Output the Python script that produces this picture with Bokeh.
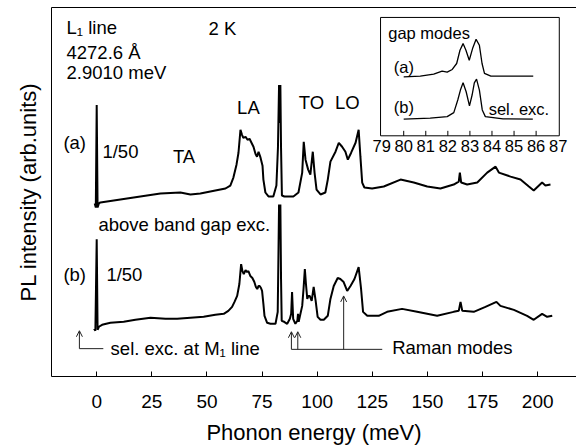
from bokeh.plotting import figure
from bokeh.models import Range1d, LinearAxis, FixedTicker, Label, Arrow, OpenHead
from bokeh.core.properties import value
from bokeh.embed import file_html
from bokeh.resources import INLINE

FONT = "Liberation Sans"

# ---------------- data ----------------
x_ticks = [0, 25, 50, 75, 100, 125, 150, 175, 200]

# trace (a): above band gap excitation
a_energy = [-0.9, -0.4, 0.0, 0.4, 1.0, 1.68, 10.75, 19.8, 28.9, 37.97, 42.5, 47.0, 53.8, 58.4,
            60.6, 62.0, 63.4, 64.3, 65.2, 65.9, 66.5, 67.5, 68.4, 69.3, 70.2, 71.1, 72.0, 72.7,
            73.4, 74.3, 75.2, 75.6, 76.5, 77.9, 80.1, 81.5, 82.2, 82.7, 82.97, 83.3, 83.6, 84.0,
            85.1, 89.2, 91.5, 93.2, 93.9, 94.7, 95.9, 96.9, 98.0, 98.8, 99.7, 101.5, 103.7,
            104.8, 106.0, 108.3, 109.8, 111.3, 112.8, 113.9, 115.4, 117.4, 118.8, 119.6, 120.4,
            121.4, 124.9, 130.2, 137.8, 143.8, 149.9, 155.9, 161.9, 164.2, 164.7, 165.3, 168.0,
            172.6, 177.1, 180.9, 182.4, 187.7, 192.2, 196.0, 198.2, 202.0, 203.5, 205.8]
a_intensity = [174, 170, 273, 170, 174, 175, 178, 181, 184, 185, 183, 184, 187, 189,
               192, 200, 213, 225, 248, 243, 240, 241, 238, 239, 235, 231, 224, 221,
               226, 220, 212, 198, 185, 181, 181, 192, 230, 293, 255, 293, 230, 182,
               181, 181, 185, 205, 236, 218, 208, 203, 226, 205, 188, 183, 185,
               198, 216, 226, 235, 231, 226, 218, 225, 235, 248, 221, 195,
               190, 189, 191, 198, 195, 191, 189, 193, 196, 205, 195, 193,
               195, 205, 211, 205, 201, 198, 191, 187, 195, 192, 193]

# trace (b): selective excitation at M1 line
b_energy = [-1.2, -0.6, 0.0, 0.4, 1.0, 2.45, 6.2, 12.25, 17.55, 24.4, 31.2, 36.5, 42.5, 48.5,
            53.8, 57.6, 59.7, 61.4, 62.5, 63.7, 64.7, 65.5, 66.1, 66.7, 67.5, 68.2, 68.8, 69.7,
            70.6, 71.5, 72.2, 72.8, 73.4, 73.9, 74.5, 75.0, 75.6, 76.1, 77.3, 78.8, 81.1, 82.1,
            82.4, 82.7, 82.97, 83.3, 83.6, 83.9, 85.0, 86.4, 87.6, 88.2, 88.6, 89.1, 90.1, 91.0,
            91.3, 91.6, 93.2, 93.8, 94.4, 94.9, 95.5, 96.0, 96.6, 97.5, 98.4, 99.3, 100.2, 101.5,
            103.0, 104.8, 106.0, 107.5, 109.3, 110.5, 112.0, 113.6, 115.1, 116.9, 118.8, 119.9,
            120.8, 122.7, 127.9, 131.7, 138.5, 145.3, 154.4, 161.9, 164.2, 165.0, 165.8, 171.0,
            176.3, 181.3, 183.1, 189.2, 195.2, 198.2, 202.0, 204.3, 206.6]
b_intensity = [48, 46, 138, 47, 50, 52, 54, 55, 57, 59, 58, 58, 59, 60,
               62, 63, 66, 70, 75, 81, 93, 113, 106, 103, 107, 105, 106, 101,
               99, 95, 90, 88, 91, 91, 89, 86, 73, 61, 54, 53, 53, 65,
               118, 173, 138, 173, 98, 56, 55, 53, 58, 63, 85, 58, 53, 56,
               63, 55, 71, 88, 108, 93, 78, 81, 81, 76, 90, 76, 60, 57,
               57, 61, 78, 91, 99, 98, 95, 86, 91, 98, 110, 88,
               65, 61, 61, 65, 68, 65, 61, 65, 66, 75, 66, 65,
               70, 75, 71, 67, 61, 57, 63, 60, 61]

# inset: gap modes
inset_ticks = [80, 81, 82, 83, 84, 85, 86]
inset_labels = ["79", "80", "81", "82", "83", "84", "85", "86", "87"]
inset_label_pos = [79, 80, 81, 82, 83, 84, 85, 86, 87]
ia_energy = [80.0, 80.75, 81.36, 81.74, 81.97, 82.2, 82.4, 82.55, 82.69, 82.82, 82.97, 83.12,
             83.28, 83.43, 83.55, 83.66, 83.95, 84.86, 85.87]
ia_intensity = [59.3, 60, 62, 65, 64, 66.7, 72.7, 86, 92.7, 86, 76, 87.7,
                97, 91, 72.7, 62.7, 60, 60, 60]
ib_energy = [80.0, 81.2, 81.97, 82.27, 82.45, 82.57, 82.69, 82.83, 82.98, 83.1, 83.2, 83.3,
             83.43, 83.56, 83.7, 84.5, 85.85]
ib_intensity = [16.7, 17.7, 19.3, 23.3, 36, 46, 53.3, 44.3, 30, 41, 53.3, 57,
                46, 26, 19.3, 17, 16.7]

# Raman mode positions (arrows) and excitation marker
raman_modes = [88.3, 91.2, 112.0]
sel_exc = -7.85

# ---------------- figure ----------------
p = figure(width=576, height=447, x_range=Range1d(-20.5, 217.6), y_range=Range1d(0, 371),
           output_backend="svg", toolbar_location=None,
           min_border_left=51, min_border_right=0, min_border_top=7, min_border_bottom=69)
p.outline_line_color = None
p.xgrid.grid_line_color = None
p.ygrid.grid_line_color = None
p.background_fill_color = "white"

xa = p.xaxis[0]
xa.ticker = FixedTicker(ticks=x_ticks)
xa.major_tick_in = 5
xa.major_tick_out = 0
xa.minor_tick_line_color = None
xa.axis_line_color = "black"
xa.major_tick_line_color = "black"
xa.major_label_text_font = FONT
xa.major_label_text_font_size = "19px"
xa.major_label_text_color = "black"
xa.major_label_standoff = 18
xa.axis_label = "Phonon energy (meV)"
xa.axis_label_text_font = FONT
xa.axis_label_text_font_size = "22px"
xa.axis_label_text_font_style = "normal"
xa.axis_label_text_color = "black"
xa.axis_label_standoff = 9

ya = p.yaxis[0]
ya.ticker = FixedTicker(ticks=[])
ya.major_tick_in = 0
ya.major_tick_out = 0
ya.minor_tick_line_color = None
ya.axis_line_color = "black"
ya.major_label_text_font_size = "0px"
ya.axis_label = "PL intensity (arb.units)"
ya.axis_label_text_font = FONT
ya.axis_label_text_font_size = "22px"
ya.axis_label_text_font_style = "normal"
ya.axis_label_text_color = "black"
ya.axis_label_standoff = 11

top = LinearAxis(ticker=FixedTicker(ticks=[]), major_tick_in=0, major_tick_out=0,
                 minor_tick_line_color=None, major_label_text_font_size="0px",
                 axis_line_color="black")
p.add_layout(top, "above")

p.extra_x_ranges = {"inset_x": Range1d(64.04, 87.83)}
p.extra_y_ranges = {"inset_y": Range1d(-242, 129)}

# main spectra
p.line(a_energy, a_intensity, line_color="black", line_width=2.0)
p.line(b_energy, b_intensity, line_color="black", line_width=2.0)

# inset
p.quad(left=[78.95], right=[87.05], bottom=[0], top=[119], fill_color="white",
       line_color="black", line_width=1, x_range_name="inset_x", y_range_name="inset_y")
p.segment(x0=inset_ticks, y0=[0] * len(inset_ticks), x1=inset_ticks, y1=[5] * len(inset_ticks),
          line_color="black", line_width=1, x_range_name="inset_x", y_range_name="inset_y")
p.text(x=inset_label_pos, y=[-10.5] * len(inset_label_pos), text=inset_labels,
       text_font=value(FONT), text_font_size="16.5px", text_align="center",
       text_baseline="middle", text_color="black",
       x_range_name="inset_x", y_range_name="inset_y")
p.line(ia_energy, ia_intensity, line_color="black", line_width=1.3,
       x_range_name="inset_x", y_range_name="inset_y")
p.line(ib_energy, ib_intensity, line_color="black", line_width=1.3,
       x_range_name="inset_x", y_range_name="inset_y")

def lab(x, y, t, size="18.5px", align="left", xr="default", yr="default"):
    p.add_layout(Label(x=x, y=y, text=t, text_font=FONT, text_font_size=size,
                       text_align=align, text_baseline="middle", text_color="black",
                       x_range_name=xr, y_range_name=yr))

lab(79.3, 103, "gap modes", "16.5px", xr="inset_x", yr="inset_y")
lab(79.55, 69, "(a)", "16.5px", xr="inset_x", yr="inset_y")
lab(79.55, 29, "(b)", "16.5px", xr="inset_x", yr="inset_y")
lab(83.85, 27, "sel. exc.", "16.5px", xr="inset_x", yr="inset_y")

lab(-13.7, 351, "L\u2081 line")
lab(-13.7, 326, "4272.6 \u00c5")
lab(-13.7, 306, "2.9010 meV")
lab(50.7, 350, "2 K")
lab(68.8, 270, "LA", align="center")
lab(39.6, 221, "TA", align="center")
lab(97.4, 275, "TO", align="center")
lab(113.7, 275, "LO", align="center")
lab(-15.1, 235, "(a)")
lab(2.6, 226, "1/50")
lab(0.8, 153, "above band gap exc.")
lab(-15.1, 103, "(b)")
lab(4.4, 103, "1/50")
lab(6.3, 28, "sel. exc. at M\u2081 line")
lab(134.0, 29, "Raman modes")

# arrows
p.add_layout(Arrow(end=OpenHead(size=6, line_width=1, line_color="#222"),
                   x_start=sel_exc, y_start=28, x_end=sel_exc, y_end=46,
                   line_width=1, line_color="#222"))
p.segment(x0=[sel_exc], y0=[28], x1=[3.0], y1=[28], line_color="#222", line_width=1)
for xm, ye in zip(raman_modes, [45, 45, 81]):
    p.add_layout(Arrow(end=OpenHead(size=6, line_width=1, line_color="#222"),
                       x_start=xm, y_start=27.3, x_end=xm, y_end=ye,
                       line_width=1, line_color="#222"))
p.segment(x0=[raman_modes[0]], y0=[27.3], x1=[129.5], y1=[27.3], line_color="#222", line_width=1)

open("out.html", "w").write(file_html(p, INLINE))
